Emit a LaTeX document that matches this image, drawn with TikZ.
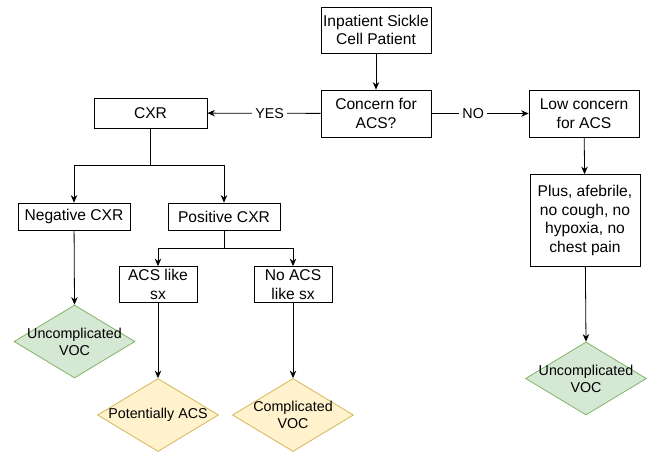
\documentclass[tikz,border=0pt]{standalone}
\usepackage{fontspec}
\setmainfont{Liberation Sans}
\usetikzlibrary{positioning,shapes.geometric,arrows.meta}
\definecolor{vocfill}{HTML}{D5E8D4}
\definecolor{vocline}{HTML}{82B366}
\definecolor{acsfill}{HTML}{FFF2CC}
\definecolor{acsline}{HTML}{D6B656}
\newcommand{\boxfont}{\fontsize{15.6}{18.7}\selectfont}
\newcommand{\smallfont}{\fontsize{14.3}{17.2}\selectfont}
\begin{document}
\begin{tikzpicture}[x=1pt,y=-1pt,
    box/.style={draw,line width=0.8pt,align=center,inner sep=0pt,font=\boxfont},
    dia/.style={diamond,draw,line width=0.8pt,inner sep=0pt,minimum width=121pt,minimum height=73pt},
    green/.style={fill=vocfill,draw=vocline},
    yellow/.style={fill=acsfill,draw=acsline},
    arr/.style={-{Stealth[length=7.5pt,width=6.5pt]},line width=0.8pt},
    lbl/.style={fill=white,font=\smallfont,inner sep=3pt}]
\useasboundingbox (0,0) rectangle (649,451);
            \node[box,minimum width=110pt,minimum height=46pt] (inpat) at (376,30) {Inpatient Sickle\\Cell Patient};
            \node[box,minimum width=110pt,minimum height=47pt] (concern) at (376,113.5) {Concern for\\ACS?};
            \node[box,minimum width=113pt,minimum height=30pt] (cxr) at (150.5,113) {CXR};
            \node[box,minimum width=110pt,minimum height=47pt] (low) at (584,113.5) {Low concern\\for ACS};
            \node[box,minimum width=110pt,minimum height=92pt] (plus) at (585,220.5) {Plus, afebrile,\\no cough, no\\hypoxia, no\\chest pain};
            \node[box,minimum width=112pt,minimum height=27pt] (neg) at (74,216.5) {Negative CXR};
            \node[box,minimum width=112pt,minimum height=27pt] (pos) at (224,216.5) {Positive CXR};
            \node[box,minimum width=78pt,minimum height=36pt] (acs) at (158,284.5) {ACS like\\sx};
            \node[box,minimum width=78pt,minimum height=36pt] (noacs) at (293,284.5) {No ACS\\like sx};
            \node[dia,green,label={[align=center,font=\smallfont]center:{Uncomplicated\\VOC}}] (vocleft) at (74.5,341.5) {};
            \node[dia,yellow,label={[align=center,font=\smallfont]center:{Potentially ACS}}] (potacs) at (158,415) {};
            \node[dia,yellow,label={[align=center,font=\smallfont]center:{Complicated\\VOC}}] (compvoc) at (293,415) {};
            \node[dia,green,label={[align=center,font=\smallfont]center:{Uncomplicated\\VOC}}] (vocright) at (586,378.5) {};
            \coordinate (cxrsplit) at (150.5,165);
            \coordinate (possplit) at (224,248);
            % main path
            \draw[arr] (inpat) -- (concern);
            \draw[arr] (concern) -- node[lbl,pos=0.45]{YES} (cxr);
            \draw[arr] (concern) -- node[lbl,pos=0.43]{NO} (low);
            \draw[arr] (low) -- (plus);
            \draw[arr] (plus) -- (vocright.north);
            % chest x-ray branch
            \draw[line width=0.8pt] (cxr) -- (cxrsplit);
            \draw[arr] (cxrsplit) -| (neg);
            \draw[arr] (cxrsplit) -| (pos);
            \draw[line width=0.8pt] (pos) -- (possplit);
            \draw[arr] (possplit) -| (acs);
            \draw[arr] (possplit) -| (noacs);
            \draw[arr] (neg) -- (vocleft.north);
            \draw[arr] (acs) -- (potacs.north);
            \draw[arr] (noacs) -- (compvoc.north);
\end{tikzpicture}
\end{document}
